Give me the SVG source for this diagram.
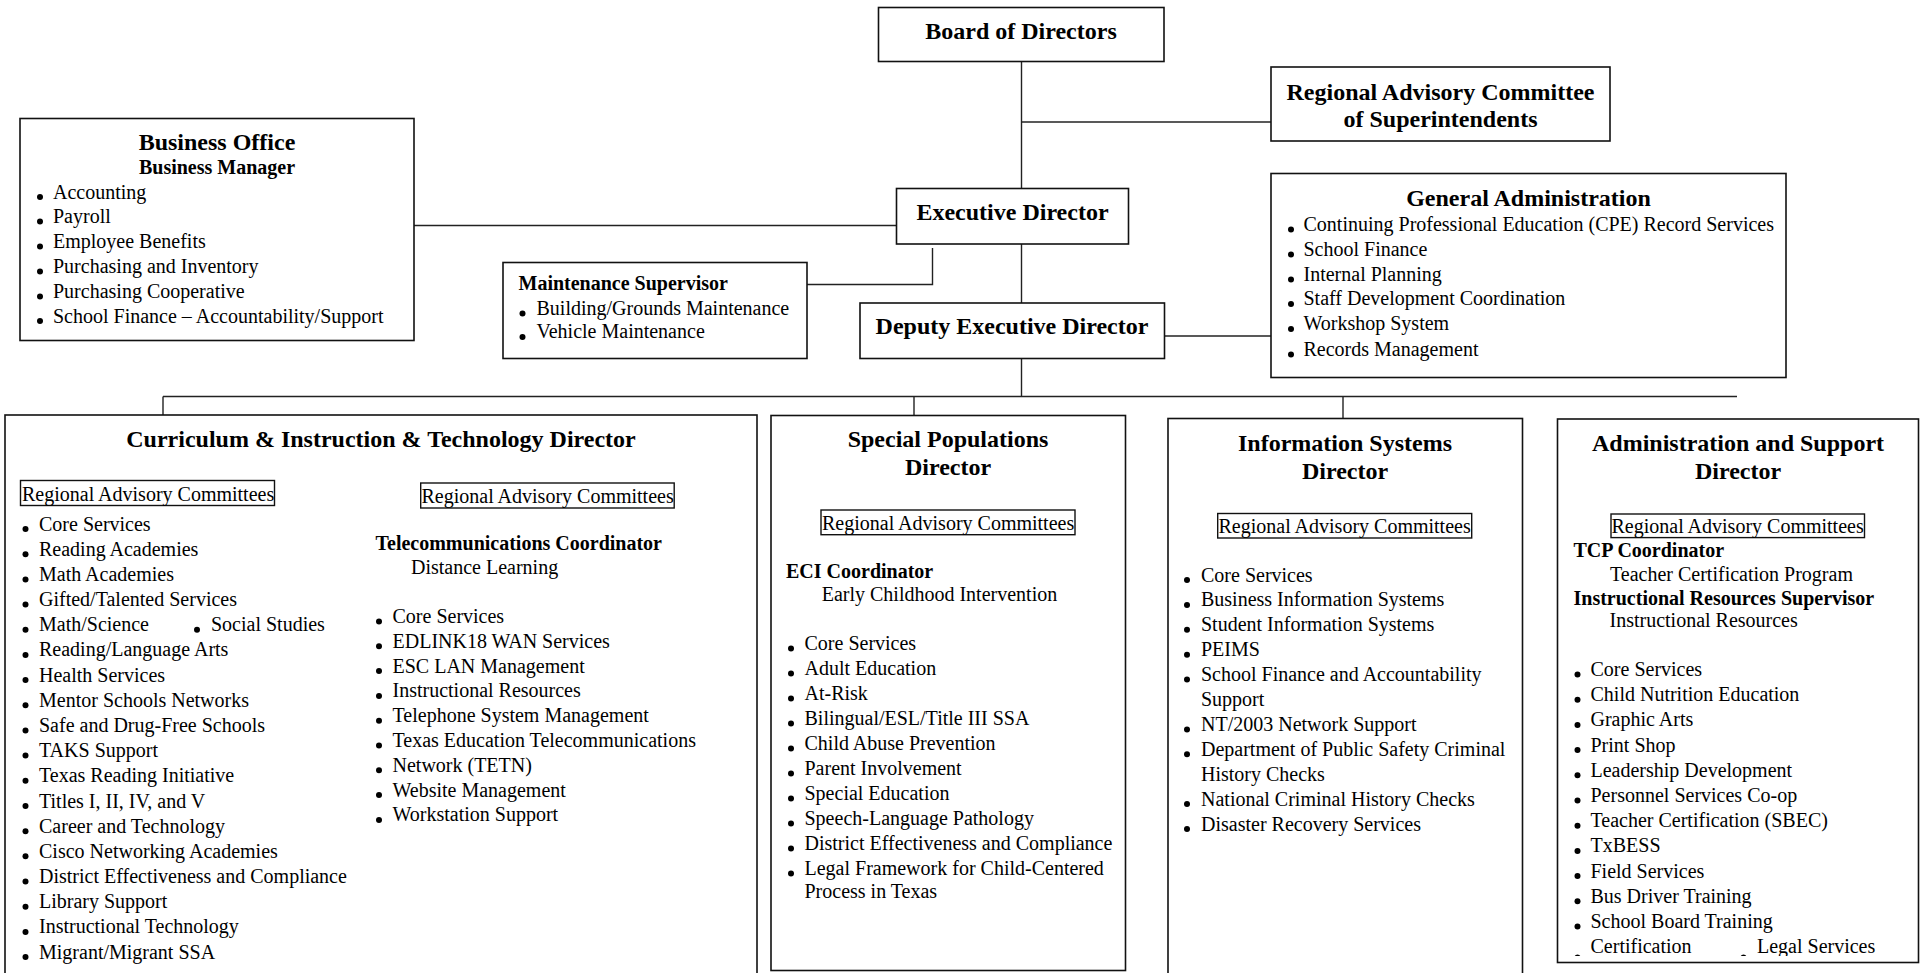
<svg xmlns="http://www.w3.org/2000/svg" width="1923" height="973" viewBox="0 0 1923 973">
<style>
.box{fill:#fff;stroke:#111;stroke-width:1.6}
.rac{fill:none;stroke:#111;stroke-width:1.4}
.ln{fill:none;stroke:#222;stroke-width:1.4}
text{font-family:"Liberation Serif","Times New Roman",serif;fill:#000}
.t{font-size:24px;font-weight:bold;text-anchor:middle}
.h{font-size:20px;font-weight:bold}
.b{font-size:20px}
.c{text-anchor:middle}
.d{fill:#000}
</style>
<defs>
<clipPath id="clipAdmin"><rect x="1557" y="419" width="362" height="537"/></clipPath>
</defs>
<rect x="0" y="0" width="1923" height="973" fill="#fff"/>

<g id="connectors">
<path class="ln" d="M1021.5 61V189"/>
<path class="ln" d="M1021.5 122H1271"/>
<path class="ln" d="M1021.5 244V303"/>
<path class="ln" d="M414 225.5H896"/>
<path class="ln" d="M807 284.5H932.5V248"/>
<path class="ln" d="M1164.5 336H1271"/>
<path class="ln" d="M1021.5 358.5V396.5"/>
<path class="ln" d="M163 396.5H1737"/>
<path class="ln" d="M163 396.5V415"/>
<path class="ln" d="M914 396.5V415.5"/>
<path class="ln" d="M1343 396.5V418.5"/>
<path class="ln" d="M145.5 454V480.5"/>
<path class="ln" d="M521 454V483"/>
<path class="ln" d="M950 486V510"/>
<path class="ln" d="M1343 487V513.5"/>
</g>

<g id="board">
<rect class="box" x="878.5" y="7.5" width="285.5" height="54"/>
<text class="t" x="1021" y="39">Board of Directors</text>
</g>

<g id="rac-superintendents">
<rect class="box" x="1271" y="67" width="339" height="74"/>
<text class="t" x="1440.5" y="100">Regional Advisory Committee</text>
<text class="t" x="1440.5" y="127">of Superintendents</text>
</g>

<g id="business-office">
<rect class="box" x="20" y="118.5" width="394" height="222"/>
<text class="t" x="217" y="150">Business Office</text>
<text class="h c" x="217" y="174">Business Manager</text>
<g class="b">
<text x="53" y="198.5">Accounting</text>
<text x="53" y="223">Payroll</text>
<text x="53" y="248">Employee Benefits</text>
<text x="53" y="273">Purchasing and Inventory</text>
<text x="53" y="298">Purchasing Cooperative</text>
<text x="53" y="322.5">School Finance – Accountability/Support</text>
</g>
<g class="d">
<circle cx="40" cy="197" r="3"/><circle cx="40" cy="221.5" r="3"/><circle cx="40" cy="246.5" r="3"/><circle cx="40" cy="271.5" r="3"/><circle cx="40" cy="296.5" r="3"/><circle cx="40" cy="321" r="3"/>
</g>
</g>

<g id="executive-director">
<rect class="box" x="896.5" y="188.5" width="232" height="55.5"/>
<text class="t" x="1012.5" y="219.5">Executive Director</text>
</g>

<g id="maintenance">
<rect class="box" x="503" y="262.5" width="304" height="96"/>
<text class="h" x="518.5" y="289.5">Maintenance Supervisor</text>
<text class="b" x="536.5" y="314.5">Building/Grounds Maintenance</text>
<text class="b" x="536.5" y="338">Vehicle Maintenance</text>
<circle class="d" cx="522.5" cy="313.5" r="3"/>
<circle class="d" cx="522.5" cy="337" r="3"/>
</g>

<g id="deputy-executive-director">
<rect class="box" x="860" y="303" width="304.5" height="55.5"/>
<text class="t" x="1012" y="334">Deputy Executive Director</text>
</g>

<g id="general-administration">
<rect class="box" x="1271" y="173.5" width="515" height="204"/>
<text class="t" x="1528.5" y="205.5">General Administration</text>
<g class="b">
<text x="1303.5" y="230.5">Continuing Professional Education (CPE) Record Services</text>
<text x="1303.5" y="255.5">School Finance</text>
<text x="1303.5" y="280.5">Internal Planning</text>
<text x="1303.5" y="305">Staff Development Coordination</text>
<text x="1303.5" y="330">Workshop System</text>
<text x="1303.5" y="355.5">Records Management</text>
</g>
<g class="d">
<circle cx="1291" cy="229.5" r="3"/><circle cx="1291" cy="254.5" r="3"/><circle cx="1291" cy="279.5" r="3"/><circle cx="1291" cy="304" r="3"/><circle cx="1291" cy="329" r="3"/><circle cx="1291" cy="354.5" r="3"/>
</g>
</g>

<g id="curriculum-director">
<rect class="box" x="5" y="415" width="752" height="580"/>
<text class="t" x="381" y="447">Curriculum &amp; Instruction &amp; Technology Director</text>
<rect class="rac" x="20.5" y="480.5" width="254" height="25"/>
<text class="b" x="22" y="500.5">Regional Advisory Committees</text>
<rect class="rac" x="420.7" y="483" width="253.5" height="25"/>
<text class="b" x="421.5" y="503">Regional Advisory Committees</text>
<g class="b">
<text x="39" y="530.5">Core Services</text>
<text x="39" y="555.7">Reading Academies</text>
<text x="39" y="580.9">Math Academies</text>
<text x="39" y="606">Gifted/Talented Services</text>
<text x="39" y="631.2">Math/Science</text>
<text x="211" y="631.2">Social Studies</text>
<text x="39" y="656.4">Reading/Language Arts</text>
<text x="39" y="681.6">Health Services</text>
<text x="39" y="706.8">Mentor Schools Networks</text>
<text x="39" y="731.9">Safe and Drug-Free Schools</text>
<text x="39" y="757.1">TAKS Support</text>
<text x="39" y="782.3">Texas Reading Initiative</text>
<text x="39" y="807.5">Titles I, II, IV, and V</text>
<text x="39" y="832.7">Career and Technology</text>
<text x="39" y="857.8">Cisco Networking Academies</text>
<text x="39" y="883">District Effectiveness and Compliance</text>
<text x="39" y="908.2">Library Support</text>
<text x="39" y="933.4">Instructional Technology</text>
<text x="39" y="958.5">Migrant/Migrant SSA</text>
</g>
<g class="d">
<circle cx="25.5" cy="529" r="3"/><circle cx="25.5" cy="554.2" r="3"/><circle cx="25.5" cy="579.4" r="3"/><circle cx="25.5" cy="604.5" r="3"/><circle cx="25.5" cy="629.7" r="3"/><circle cx="197" cy="629.7" r="3"/><circle cx="25.5" cy="654.9" r="3"/><circle cx="25.5" cy="680.1" r="3"/><circle cx="25.5" cy="705.3" r="3"/><circle cx="25.5" cy="730.4" r="3"/><circle cx="25.5" cy="755.6" r="3"/><circle cx="25.5" cy="780.8" r="3"/><circle cx="25.5" cy="806" r="3"/><circle cx="25.5" cy="831.2" r="3"/><circle cx="25.5" cy="856.3" r="3"/><circle cx="25.5" cy="881.5" r="3"/><circle cx="25.5" cy="906.7" r="3"/><circle cx="25.5" cy="931.9" r="3"/><circle cx="25.5" cy="957" r="3"/>
</g>
<text class="h" x="375.5" y="550">Telecommunications Coordinator</text>
<text class="b" x="411" y="574">Distance Learning</text>
<g class="b">
<text x="392.5" y="623">Core Services</text>
<text x="392.5" y="647.8">EDLINK18 WAN Services</text>
<text x="392.5" y="672.6">ESC LAN Management</text>
<text x="392.5" y="697.4">Instructional Resources</text>
<text x="392.5" y="722.2">Telephone System Management</text>
<text x="392.5" y="747">Texas Education Telecommunications</text>
<text x="392.5" y="771.8">Network (TETN)</text>
<text x="392.5" y="796.6">Website Management</text>
<text x="392.5" y="821.4">Workstation Support</text>
</g>
<g class="d">
<circle cx="379" cy="621.5" r="3"/><circle cx="379" cy="646.3" r="3"/><circle cx="379" cy="671.1" r="3"/><circle cx="379" cy="695.9" r="3"/><circle cx="379" cy="720.7" r="3"/><circle cx="379" cy="745.5" r="3"/><circle cx="379" cy="770.3" r="3"/><circle cx="379" cy="795.1" r="3"/><circle cx="379" cy="819.9" r="3"/>
</g>
</g>

<g id="special-populations-director">
<rect class="box" x="771" y="415.5" width="354.5" height="555"/>
<text class="t" x="948" y="447">Special Populations</text>
<text class="t" x="948" y="475">Director</text>
<rect class="rac" x="821" y="510" width="254" height="24.7"/>
<text class="b" x="822" y="529.5">Regional Advisory Committees</text>
<text class="h" x="786" y="577.5">ECI Coordinator</text>
<text class="b" x="821.7" y="600.8">Early Childhood Intervention</text>
<g class="b">
<text x="804.5" y="650">Core Services</text>
<text x="804.5" y="675">Adult Education</text>
<text x="804.5" y="700">At-Risk</text>
<text x="804.5" y="725">Bilingual/ESL/Title III SSA</text>
<text x="804.5" y="750">Child Abuse Prevention</text>
<text x="804.5" y="775">Parent Involvement</text>
<text x="804.5" y="800">Special Education</text>
<text x="804.5" y="825">Speech-Language Pathology</text>
<text x="804.5" y="850">District Effectiveness and Compliance</text>
<text x="804.5" y="875">Legal Framework for Child-Centered</text>
<text x="804.5" y="898">Process in Texas</text>
</g>
<g class="d">
<circle cx="791" cy="648.5" r="3"/><circle cx="791" cy="673.5" r="3"/><circle cx="791" cy="698.5" r="3"/><circle cx="791" cy="723.5" r="3"/><circle cx="791" cy="748.5" r="3"/><circle cx="791" cy="773.5" r="3"/><circle cx="791" cy="798.5" r="3"/><circle cx="791" cy="823.5" r="3"/><circle cx="791" cy="848.5" r="3"/><circle cx="791" cy="873.5" r="3"/>
</g>
</g>

<g id="information-systems-director">
<rect class="box" x="1168" y="418.5" width="354.5" height="580"/>
<text class="t" x="1345" y="451">Information Systems</text>
<text class="t" x="1345" y="479">Director</text>
<rect class="rac" x="1217.7" y="513.5" width="254" height="24.5"/>
<text class="b" x="1218.5" y="533">Regional Advisory Committees</text>
<g class="b">
<text x="1201" y="581.5">Core Services</text>
<text x="1201" y="606.4">Business Information Systems</text>
<text x="1201" y="631.3">Student Information Systems</text>
<text x="1201" y="656.2">PEIMS</text>
<text x="1201" y="681.1">School Finance and Accountability</text>
<text x="1201" y="706">Support</text>
<text x="1201" y="730.9">NT/2003 Network Support</text>
<text x="1201" y="755.8">Department of Public Safety Criminal</text>
<text x="1201" y="780.7">History Checks</text>
<text x="1201" y="805.6">National Criminal History Checks</text>
<text x="1201" y="830.5">Disaster Recovery Services</text>
</g>
<g class="d">
<circle cx="1187" cy="580" r="3"/><circle cx="1187" cy="604.9" r="3"/><circle cx="1187" cy="629.8" r="3"/><circle cx="1187" cy="654.7" r="3"/><circle cx="1187" cy="679.6" r="3"/><circle cx="1187" cy="729.4" r="3"/><circle cx="1187" cy="754.3" r="3"/><circle cx="1187" cy="804.1" r="3"/><circle cx="1187" cy="829" r="3"/>
</g>
</g>

<g id="administration-support-director">
<rect class="box" x="1557.5" y="419" width="361" height="543.5"/>
<text class="t" x="1738" y="451">Administration and Support</text>
<text class="t" x="1738" y="479">Director</text>
<rect class="rac" x="1611" y="514" width="253.5" height="23.6"/>
<text class="b" x="1611.5" y="532.5">Regional Advisory Committees</text>
<text class="h" x="1573.5" y="557">TCP Coordinator</text>
<text class="b" x="1610" y="580.5">Teacher Certification Program</text>
<text class="h" x="1573.5" y="604.5">Instructional Resources Supervisor</text>
<text class="b" x="1609.5" y="627">Instructional Resources</text>
<g clip-path="url(#clipAdmin)">
<g class="b">
<text x="1590.5" y="676">Core Services</text>
<text x="1590.5" y="701.2">Child Nutrition Education</text>
<text x="1590.5" y="726.4">Graphic Arts</text>
<text x="1590.5" y="751.6">Print Shop</text>
<text x="1590.5" y="776.8">Leadership Development</text>
<text x="1590.5" y="802">Personnel Services Co-op</text>
<text x="1590.5" y="827.2">Teacher Certification (SBEC)</text>
<text x="1590.5" y="852.4">TxBESS</text>
<text x="1590.5" y="877.6">Field Services</text>
<text x="1590.5" y="902.8">Bus Driver Training</text>
<text x="1590.5" y="928">School Board Training</text>
<text x="1590.5" y="953.2">Certification</text>
<text x="1757" y="953.2">Legal Services</text>
</g>
<g class="d">
<circle cx="1577.5" cy="674.5" r="3"/><circle cx="1577.5" cy="699.7" r="3"/><circle cx="1577.5" cy="724.9" r="3"/><circle cx="1577.5" cy="750.1" r="3"/><circle cx="1577.5" cy="775.3" r="3"/><circle cx="1577.5" cy="800.5" r="3"/><circle cx="1577.5" cy="825.7" r="3"/><circle cx="1577.5" cy="850.9" r="3"/><circle cx="1577.5" cy="876.1" r="3"/><circle cx="1577.5" cy="901.3" r="3"/><circle cx="1577.5" cy="926.5" r="3"/><circle cx="1577.5" cy="957.5" r="3"/><circle cx="1743.5" cy="957.5" r="3"/>
</g>
</g>
</g>
</svg>
